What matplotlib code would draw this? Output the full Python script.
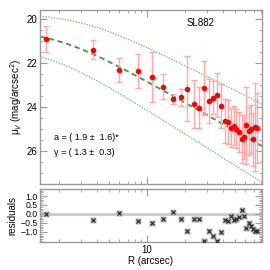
import numpy as np
import matplotlib
matplotlib.use('Agg')
import matplotlib.pyplot as plt
from matplotlib.ticker import FixedLocator, NullFormatter, MultipleLocator

plt.rcParams['font.family'] = ['Liberation Sans', 'DejaVu Sans']

# ---- data ----
R = [1.57, 3.71, 6.03, 8.53, 11.0, 13.47, 16.0, 18.5, 20.9, 23.4,
     25.9, 28.5, 31.1, 33.4, 35.9, 38.6, 41.1, 43.4, 45.9, 48.6,
     50.9, 53.7, 56.2, 58.7, 61.0, 63.9, 66.3, 68.7, 71.6, 74.6]
mu = [20.91, 21.39, 22.32, 22.36, 22.65, 23.08, 23.65, 23.56, 23.17, 23.88,
      24.03, 23.15, 23.74, 23.57, 23.44, 23.96, 24.63, 24.68, 24.94, 24.85,
      24.99, 25.13, 25.47, 25.35, 24.83, 25.10, 25.02, 25.47, 24.93, 24.95]
mu_err = [0.59, 0.44, 0.54, 0.78, 1.14, 0.56, 0.22, 0.39, 1.48, 1.10,
          0.95, 1.23, 1.00, 0.76, 1.00, 1.00, 1.00, 1.00, 0.90, 0.90,
          0.90, 0.90, 1.10, 1.00, 1.75, 1.10, 1.10, 1.20, 2.00, 1.60]
resid = [0.02, -0.33, 0.07, -0.39, -0.52, -0.30, 0.13, -0.28, -0.96, -0.28,
         -0.28, -1.50, -0.93, -1.22, -1.52, -1.02, -0.35, -0.37, -0.13, -0.35,
         -0.30, -0.19, 0.22, -0.09, -0.76, -0.52, -0.65, -0.85, -0.93, -0.93]

# fitted profile parameters (best fit and envelope)
fit_best = (20.48, 1.9, 1.3)
fit_upper = (19.74, 3.0, 1.15)
fit_lower = (21.25, 1.6, 1.45)

label_name = "SL882"
label_a = "a = ( 1.9 \u00b1  1.6)*"
label_g = "\u03b3 = ( 1.3 \u00b1  0.3)"


def profile(r, mu0, a, g):
    return mu0 + 1.25 * g * np.log10(1.0 + (r / a) ** 2)


xlim = (1.415, 81.3)
frame = '#999999'

fig = plt.figure(figsize=(2.7, 2.7), dpi=100)
ax = fig.add_axes([0.148, 0.317, 0.822, 0.646])
axr = fig.add_axes([0.148, 0.103, 0.822, 0.197])

rg = np.logspace(np.log10(xlim[0]), np.log10(xlim[1]), 300)
ax.plot(rg, profile(rg, *fit_upper), color='#6cc77a', lw=1.0, ls=(0, (1, 1)))
ax.plot(rg, profile(rg, *fit_lower), color='#6cc77a', lw=1.0, ls=(0, (1, 1)))
ax.plot(rg, profile(rg, *fit_best), color='#3a9a4a', lw=1.3, ls=(0, (3, 2)))
ax.errorbar(R, mu, yerr=mu_err, fmt='none', ecolor='#ffa8a8', elinewidth=1.0,
            capsize=2, capthick=1.0)
ax.plot(R, mu, 'o', color='#ff0000', ms=4, mec='none')

ax.set_xscale('log')
ax.set_xlim(*xlim)
ax.set_ylim(27.53, 19.58)
ax.set_ylabel('\u03bc$_V$ (mag/arcsec$^2$)', fontsize=7, labelpad=2)
ax.yaxis.set_major_locator(FixedLocator([20, 22, 24, 26]))
ax.yaxis.set_minor_locator(MultipleLocator(0.5))
ax.xaxis.set_major_formatter(NullFormatter())
ax.xaxis.set_minor_formatter(NullFormatter())
ax.text(0.725, 0.925, label_name, transform=ax.transAxes, fontsize=7,
        ha='center', va='center')
ax.text(0.065, 0.27, label_a, transform=ax.transAxes, fontsize=6.5,
        ha='left', va='center')
ax.text(0.065, 0.185, label_g, transform=ax.transAxes, fontsize=6.5,
        ha='left', va='center')

axr.axhline(0, color='#cccccc', lw=2.2, zorder=1)
axr.plot(R, resid, 's', ms=4, mfc='#bbbbbb', mec='none', zorder=2)
axr.plot(R, resid, 'x', ms=3, mew=0.8, color='#222222', zorder=3)
axr.set_xscale('log')
axr.set_xlim(*xlim)
axr.set_ylim(-1.57, 1.39)
axr.yaxis.set_major_locator(FixedLocator([-1.0, -0.5, 0.0, 0.5, 1.0]))
axr.yaxis.set_minor_locator(MultipleLocator(0.1))
axr.set_yticklabels(['\u22121.0', '\u22120.5', '0.0', '0.5', '1.0'])
axr.xaxis.set_major_locator(FixedLocator([10]))
axr.xaxis.set_major_formatter(plt.FixedFormatter(['10']))
axr.xaxis.set_minor_formatter(NullFormatter())
axr.set_xlabel('R (arcsec)', fontsize=7, labelpad=1)
axr.set_ylabel('residuals', fontsize=7, labelpad=2)

for a in (ax, axr):
    for s in a.spines.values():
        s.set_color(frame)
        s.set_linewidth(1.0)
    a.tick_params(which='both', direction='in', top=True, right=True,
                  color=frame, labelsize=7, pad=2)
    a.tick_params(which='major', length=5, width=0.8)
    a.tick_params(which='minor', length=2.5, width=0.6)
axr.tick_params(axis='y', labelsize=6.3, pad=1.5)

fig.savefig('out.png', dpi=100)
